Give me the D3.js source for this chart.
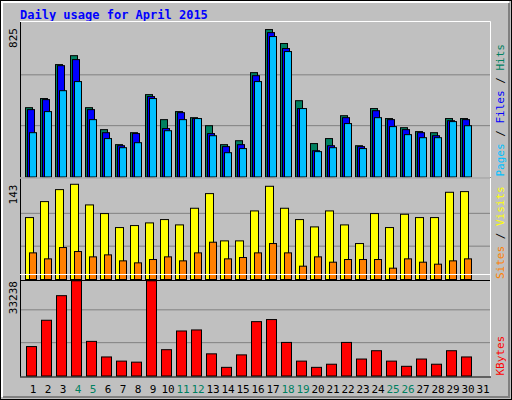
<!DOCTYPE html>
<html><head><meta charset="utf-8">
<script src="https://cdn.jsdelivr.net/npm/d3@7.9.0/dist/d3.min.js"></script>
<style>body{margin:0;background:#fff}svg{display:block}</style>
</head><body><svg width="512" height="400"></svg>
<script>
const days = d3.range(1, 32);
const weekends = [4, 5, 11, 12, 18, 19, 25, 26];
const hits = [388,439,629,679,388,265,181,248,461,321,366,332,287,181,203,584,825,747,427,187,215,343,175,383,327,276,254,248,327,327];
const files = [377,433,623,657,377,248,175,243,450,271,360,327,243,170,181,567,808,719,383,147,175,332,170,371,321,265,248,231,315,321];
const pages = [248,366,483,534,321,215,164,192,439,259,321,327,231,136,159,534,786,702,383,142,164,299,159,332,282,237,220,220,310,287];
const visits = [93,117,135,143,112,99,78,81,85,90,82,107,129,58,58,103,140,107,90,79,103,82,54,99,78,98,93,93,131,132];
const sites = [40,31,48,42,34,37,28,25,30,34,28,40,56,31,33,40,54,40,20,34,26,30,30,30,17,31,26,23,28,31];
const kbytes = [10274,19460,28042,33238,12087,6648,5197,4835,33238,9186,15713,16076,7736,3022,7373,18977,19702,11724,5197,3022,4110,11724,5923,8824,5197,3384,5923,4110,8824,6648];

const svg = d3.select('svg');
const mono = 'DejaVu Sans Mono, monospace';

// frame with bevel
svg.append('rect').attr('x', 0.5).attr('y', 0.5).attr('width', 511).attr('height', 399).attr('fill', '#c0c0c0').attr('stroke', '#000');
svg.append('path').attr('d', 'M2,397V2H509').attr('fill', 'none').attr('stroke', '#fff').attr('stroke-width', 2);
svg.append('path').attr('d', 'M3,397H509V3').attr('fill', 'none').attr('stroke', '#808080').attr('stroke-width', 2);

svg.append('text').attr('x', 20).attr('y', 19).attr('fill', '#0000ff')
  .attr('font-family', mono).attr('font-weight', 'bold').attr('font-size', 12)
  .text('Daily usage for April 2015');

const x = d3.scaleBand().domain(days).range([25.5, 490.5]).padding(0);

function panel(y0, y1, max, labelSeries) {
  const y = d3.scaleLinear().domain([0, max * 3 / 2.9]).range([y1, y0]);
  const g = svg.append('g');
  // grid lines at thirds
  [1, 2].forEach(k => {
    const v = y.domain()[1] * k / 3;
    g.append('line').attr('x1', 20).attr('x2', 490).attr('y1', y(v)).attr('y2', y(v))
      .attr('stroke', '#808080').attr('stroke-width', 1);
  });
  g.append('path').attr('d', `M20.5,${y1 + 1}V${y0 - 2}`).attr('stroke', '#000').attr('fill', 'none');
  g.append('path').attr('d', `M20,${y0 - 2.5}H490.5V${y1 + 1}`).attr('stroke', '#fff').attr('fill', 'none');
  g.append('path').attr('d', `M20,${y1 + 1.5}H491`).attr('stroke', '#000').attr('fill', 'none');
  svg.append('text').attr('transform', `translate(17,${y0 + 4}) rotate(-90)`)
    .attr('text-anchor', 'end').attr('font-family', mono).attr('font-size', 11).attr('fill', '#000')
    .text(max);
  const t = svg.append('text').attr('transform', `translate(504,${y1}) rotate(-90)`)
    .attr('font-family', mono).attr('font-size', 11);
  labelSeries.forEach(([txt, col], i) => {
    if (i) t.append('tspan').attr('fill', '#000').text(' / ');
    t.append('tspan').attr('fill', col).text(txt);
  });
  return { g, y };
}

function bars(p, data, off, w, color) {
  p.g.selectAll(null).data(data).join('rect')
    .attr('x', (d, i) => x(days[i]) + off + 0.5)
    .attr('y', d => p.y(d) + 0.5)
    .attr('width', w)
    .attr('height', d => p.y(0) - p.y(d))
    .attr('fill', color).attr('stroke', '#000').attr('stroke-width', 1);
}

const topPanel = panel(24, 176.5, 825, [['Pages', '#00c0ff'], ['Files', '#0000ff'], ['Hits', '#008060']]);
bars(topPanel, hits, -0.5, 7, '#008060');
bars(topPanel, files, 1.5, 7, '#0000ff');
bars(topPanel, pages, 3.5, 7, '#00c0ff');

const midPanel = panel(180.5, 279, 143, [['Sites', '#ff8000'], ['Visits', '#ffff00']]);
bars(midPanel, visits, -0.5, 8, '#ffff00');
bars(midPanel, sites, 3.5, 7, '#ff8000');

const botPanel = panel(277, 375.5, 33238, [['KBytes', '#ff0000']]);
bars(botPanel, kbytes, 0.5, 10, '#ff0000');

svg.selectAll('.day').data(days).join('text')
  .attr('x', d => x(d) + 7.5).attr('y', 393)
  .attr('text-anchor', 'middle').attr('font-family', mono).attr('font-size', 11)
  .attr('fill', d => weekends.includes(d) ? '#008060' : '#000')
  .text(d => d);
</script></body></html>
